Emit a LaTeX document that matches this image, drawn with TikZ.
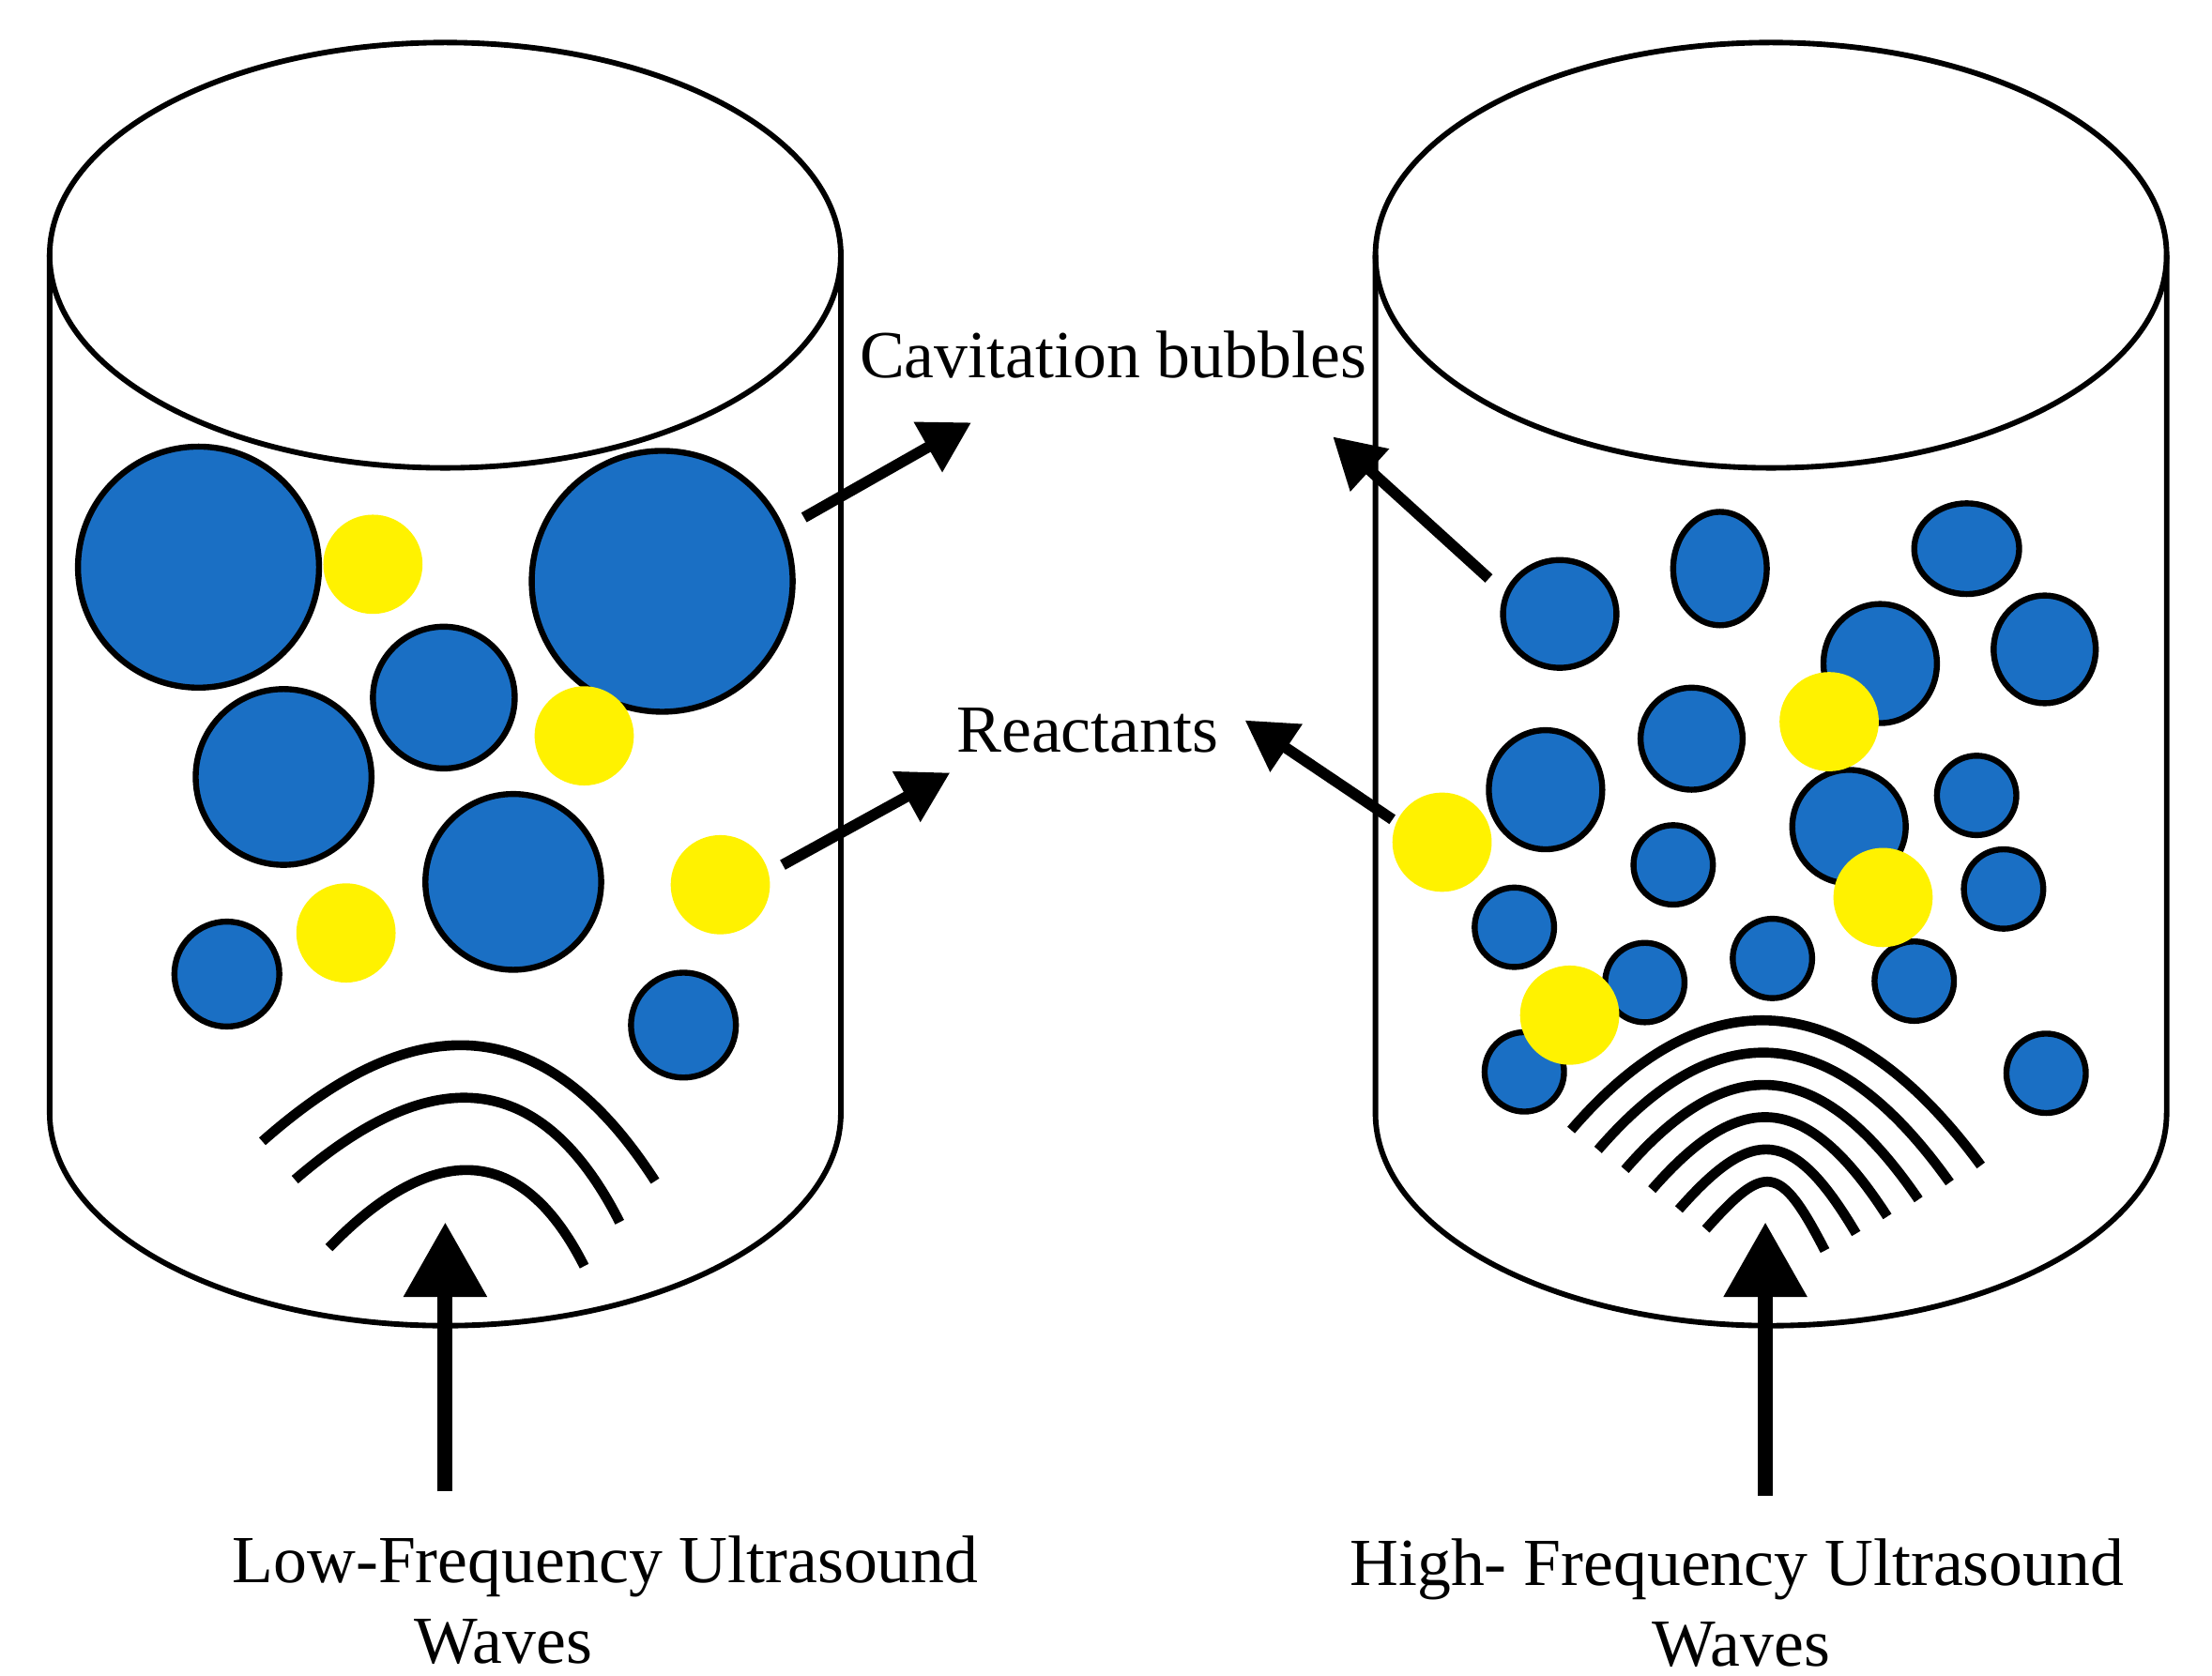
\documentclass[tikz,border=0pt]{standalone}
\usepackage{fontspec}
\setmainfont{Liberation Serif}
\usetikzlibrary{arrows.meta}
\definecolor{bub}{HTML}{1A6FC4}
\begin{document}
\begin{tikzpicture}[x=0.01cm,y=-0.01cm,
 cyl/.style={line width=1.1pt},
 blue/.style={fill=bub,draw=black,line width=1.2pt},
 yel/.style={fill=yellow},
 wave/.style={line width=2pt},
 ptr/.style={line width=2.2pt,-{Triangle[length=10pt,width=11pt]}},
 up/.style={line width=3pt,-{Triangle[length=15pt,width=16pt]}},
 lbl/.style={font=\fontsize{13.5}{15}\selectfont}]
\useasboundingbox (0,0) rectangle (1560,1182);
% cylinders
\foreach \cx in {314,1249}{
 \draw[cyl] (\cx,180) ellipse [x radius=279,y radius=150];
 \draw[cyl] (\cx-279,180) -- (\cx-279,785) arc[start angle=180,end angle=360,x radius=279,y radius=-150] -- (\cx+279,180);
}
% left bubbles
\foreach \x/\y/\r in {140/400/85,467/410/92,200/548/62,313/492/50,362/622/62,160/687/37,482/723/37}
 \draw[blue] (\x,\y) circle[radius=\r];
\foreach \x/\y in {263/398,412/519,508/624,244/658}
 \fill[yel] (\x,\y) circle[radius=35];
% right bubbles
\foreach \x/\y/\a/\b in {1100/433/40/38,1213/401/33/40,1387/387/37/32,1326/468/40/42,1442/458/36/38,1193/521/36/36,1090/557/40/42,1304/583/40/40,1394/561/28/28,1180/610/28/28,1413/627/28/28,1068/654/28/28,1160/693/28/28,1250/676/28/28,1350/692/28/28,1075/756/28/28,1443/757/28/28}
 \draw[blue] (\x,\y) ellipse [x radius=\a,y radius=\b];
\foreach \x/\y in {1290/509,1017/594,1328/633,1107/716}
 \fill[yel] (\x,\y) circle[radius=35];
% waves left
\draw[wave] (185,805) .. controls (270,730) and (370,690) .. (462,833);
\draw[wave] (208,832) .. controls (280,770) and (370,730) .. (437,862);
\draw[wave] (232,880) .. controls (290,820) and (360,790) .. (412,893);
% waves right
\foreach \i in {0,...,5}{
 \draw[wave] ({1108+\i*19},{797+\i*14}) .. controls ({1200+\i*9},{690+\i*26}) and ({1300-\i*9},{690+\i*26}) .. ({1397-\i*22},{822+\i*12});
}
% up arrows
\coordinate (la) at (314,1052); \coordinate (lb) at (314,862);
\coordinate (ra) at (1245,1055); \coordinate (rb) at (1245,862);
\draw[up] (la) -- (lb);
\draw[up] (ra) -- (rb);
% labels
\node[lbl] (cav) at (785,250) {Cavitation bubbles};
\node[lbl] (rea) at (767,515) {Reactants};
\node[lbl] (low) at (427,1105) {Low-Frequency Ultrasound};
\node[lbl] (loww) at (355,1158) {Waves};
\node[lbl] (high) at (1225,1107) {High- Frequency Ultrasound};
\node[lbl] (highw) at (1228,1160) {Waves};
\draw[ptr] (567,365) -- (685,298);
\draw[ptr] (1050,408) -- (940,308);
\draw[ptr] (552,610) -- (670,545);
\draw[ptr] (982,578) -- (878,508);
\end{tikzpicture}
\end{document}
